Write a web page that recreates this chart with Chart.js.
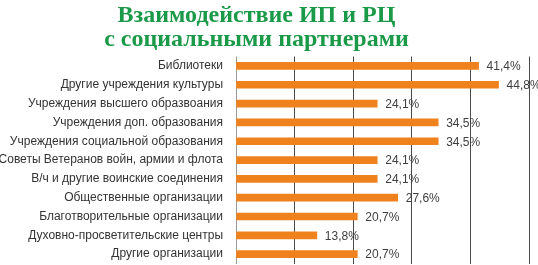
<!DOCTYPE html>
<html>
<head>
<meta charset="utf-8">
<script src="https://cdn.jsdelivr.net/npm/chart.js@4"></script>
<style>
  html, body { margin: 0; padding: 0; background: #fff; }
  #wrap { position: relative; width: 538px; height: 265px; }
  #title {
    position: absolute; left: 0; top: 2px; width: 513px;
    text-align: center; color: #1a9a48;
    font: bold 24px/24px 'Liberation Serif', serif;
  }
  canvas { position: absolute; left: 0; top: 0; }
</style>
</head>
<body>
<div id="wrap">
  <canvas id="chart" width="538" height="265"></canvas>
  <div id="title"></div>
</div>
<script>
// Data
const titleLines = ["Взаимодействие ИП и РЦ", "с социальными партнерами"];
const categories = [
    "Библиотеки",
    "Другие учреждения культуры",
    "Учреждения высшего образвоания",
    "Учреждения доп. образования",
    "Учреждения социальной образования",
    "Советы Ветеранов войн, армии и флота",
    "В/ч и другие воинские соединения",
    "Общественные организации",
    "Благотворительные организации",
    "Духовно-просветительские центры",
    "Другие организации"
];
const shares = [41.4, 44.8, 24.1, 34.5, 34.5, 24.1, 24.1, 27.6, 20.7, 13.8, 20.7];
const xTicks = [0, 10, 20, 30, 40, 50];

document.getElementById("title").innerHTML = titleLines.join("<br>");

// value labels to the right of each bar
const valueLabels = {
    id: "valueLabels",
    afterDatasetsDraw(chart) {
        const ctx = chart.ctx;
        const meta = chart.getDatasetMeta(0);
        ctx.save();
        ctx.font = "12px 'Liberation Sans', Arial, sans-serif";
        ctx.fillStyle = "#404040";
        ctx.textBaseline = "middle";
        ctx.textAlign = "left";
        meta.data.forEach((bar, i) => {
            const txt = shares[i].toFixed(1).replace(".", ",") + "%";
            ctx.fillText(txt, bar.x + 8, bar.y + 1);
        });
        ctx.restore();
    }
};

new Chart(document.getElementById("chart"), {
    type: "bar",
    data: {
        labels: categories,
        datasets: [{
            data: shares,
            backgroundColor: "#f0821e",
            barThickness: 7
        }]
    },
    options: {
        indexAxis: "y",
        responsive: false,
        animation: false,
        layout: { padding: { left: 0, right: 9, top: 56.5, bottom: 1.4 } },
        plugins: {
            legend: { display: false },
            tooltip: { enabled: false },
            title: { display: false }
        },
        scales: {
            x: {
                min: xTicks[0],
                max: xTicks[xTicks.length - 1],
                afterBuildTicks: axis => { axis.ticks = xTicks.map(v => ({ value: v })); },
                afterFit: axis => { axis.height = 0; },
                ticks: { display: false },
                grid: {
                    drawTicks: false,
                    color: ctx => ctx.index === 0 ? "#9a9a9a" : "#4a4a4a",
                    lineWidth: 1
                },
                border: { display: false }
            },
            y: {
                afterFit: axis => {
                    axis.width = 236;
                    axis.paddingTop = 0;
                    axis.paddingBottom = 0;
                },
                ticks: {
                    color: "#333",
                    padding: 13,
                    font: { family: "'Liberation Sans', Arial, sans-serif", size: 12 }
                },
                grid: { display: false, drawTicks: false },
                border: { display: false }
            }
        }
    },
    plugins: [valueLabels]
});
</script>
</body>
</html>
